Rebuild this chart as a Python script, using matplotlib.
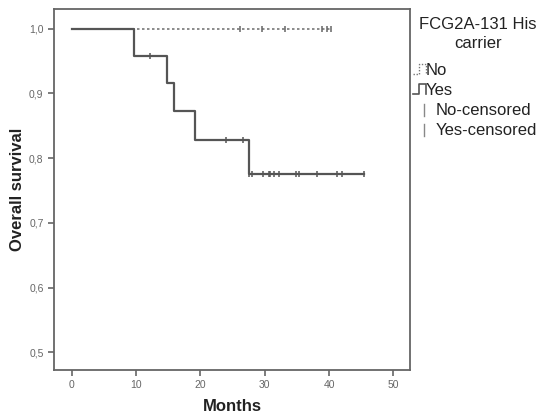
import numpy as np
import matplotlib.pyplot as plt
from matplotlib.lines import Line2D

plt.rcParams['font.family'] = ['Liberation Sans', 'DejaVu Sans']

# Kaplan-Meier steps
yes_times = [0, 9.7, 14.8, 15.9, 19.1, 27.5, 45.4]
yes_surv = [1.0, 0.958, 0.916, 0.873, 0.828, 0.776, 0.776]
yes_cens_t = [12.2, 24.0, 26.7, 27.6, 28.0, 29.7, 30.6, 30.9, 31.4, 32.2,
              34.9, 35.3, 38.1, 41.2, 42.0, 45.4]

no_times = [0, 40.3]
no_surv = [1.0, 1.0]
no_cens_t = [26.2, 29.6, 33.2, 38.9, 39.7, 40.3]

xticks = [0, 10, 20, 30, 40, 50]
yticks = [0.5, 0.6, 0.7, 0.8, 0.9, 1.0]
ytick_labels = ["0,5", "0,6", "0,7", "0,8", "0,9", "1,0"]


def surv_at(t, times, surv):
    idx = np.searchsorted(times, t, side="right") - 1
    return surv[idx]


fig = plt.figure(figsize=(5.41, 4.16), dpi=100)
ax = fig.add_axes([0.0998, 0.1106, 0.6582, 0.8674])

ax.step(no_times, no_surv, where="post", color="#777777", lw=1.2,
        linestyle=(0, (1.5, 1.5)))
ax.step(yes_times, yes_surv, where="post", color="#555555", lw=1.6)

ax.plot(no_cens_t, [surv_at(t, no_times, no_surv) for t in no_cens_t],
        linestyle="none", marker="|", ms=4, mew=1.1, color="#666666")
ax.plot(yes_cens_t, [surv_at(t, yes_times, yes_surv) for t in yes_cens_t],
        linestyle="none", marker="|", ms=4, mew=1.1, color="#555555")

ax.set_xlim(-2.75, 52.6)
ax.set_ylim(0.473, 1.03)
ax.set_xticks(xticks)
ax.set_yticks(yticks)
ax.set_yticklabels(ytick_labels)
ax.tick_params(direction="out", length=4, width=1.2, colors="#666666",
               labelsize=7.5, labelcolor="#666666")
for s in ax.spines.values():
    s.set_color("#666666")
    s.set_linewidth(1.3)

fig.text(0.033, 0.545, "Overall survival", rotation=90, ha="center",
         va="center", fontsize=12, fontweight="bold", color="#222222")
fig.text(0.43, 0.022, "Months", ha="center", va="center", fontsize=12,
         fontweight="bold", color="#222222")

# legend drawn by hand to mimic SPSS look
fig.text(0.884, 0.94, "FCG2A-131 His", ha="center", va="center",
         fontsize=12, color="#222222")
fig.text(0.884, 0.895, "carrier", ha="center", va="center",
         fontsize=12, color="#222222")
x0 = 0.763
fig.add_artist(Line2D([x0, x0 + 0.012, x0 + 0.012, x0 + 0.024, x0 + 0.024],
                      [0.822, 0.822, 0.845, 0.845, 0.822],
                      color="#777777", lw=1.0, linestyle=(0, (1, 1.2))))
fig.text(x0 + 0.024, 0.831, "No", ha="left", va="center", fontsize=12,
         color="#222222")
fig.add_artist(Line2D([x0, x0 + 0.012, x0 + 0.012, x0 + 0.024, x0 + 0.024],
                      [0.774, 0.774, 0.797, 0.797, 0.774],
                      color="#555555", lw=1.2))
fig.text(x0 + 0.024, 0.783, "Yes", ha="left", va="center", fontsize=12,
         color="#222222")
for yy, lab in [(0.735, "No-censored"), (0.687, "Yes-censored")]:
    fig.add_artist(Line2D([0.784, 0.784], [yy - 0.014, yy + 0.014],
                          color="#888888", lw=1.0))
    fig.text(0.805, yy, lab, ha="left", va="center", fontsize=12,
             color="#222222")

fig.savefig("out.png", dpi=100)
